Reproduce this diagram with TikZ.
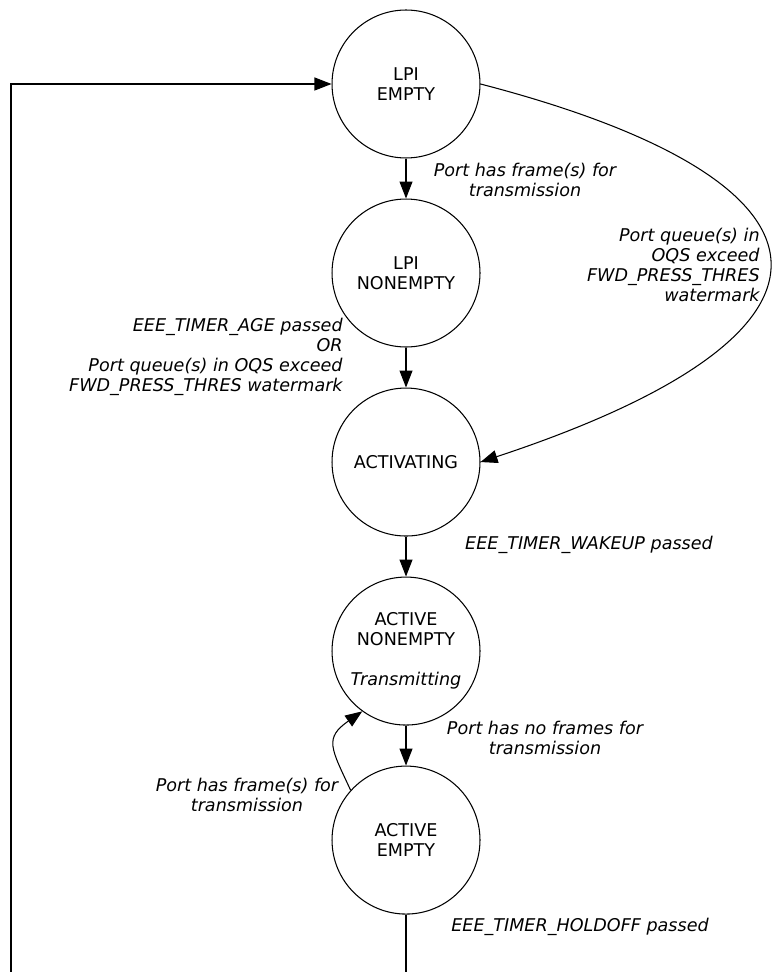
\documentclass[tikz,border=0pt]{standalone}
\usepackage{fontspec}
\setmainfont{DejaVu Sans}
\usetikzlibrary{positioning,arrows.meta}
\tikzset{
  node-state/.style={draw,circle,minimum size=2.96cm,inner sep=0pt,
    align=center,line width=0.6pt,font=\fontsize{10}{11.4}\selectfont},
  node-cond/.style={align=center,inner sep=0pt,
    font=\fontsize{10}{11.4}\selectfont\itshape},
  arrow/.style={-{Triangle[length=3.4mm,width=2.6mm]},line width=0.6pt},
}

\begin{document}
\begin{tikzpicture}[x=0.02cm,y=-0.02cm,node distance=8mm]
  \clip (0,0) rectangle (775,972);
  % states
  \node[node-state] (lpi-empty) at (406,84) {LPI\\EMPTY};
  \node[node-state,below=of lpi-empty] (lpi-nonempty) {LPI\\NONEMPTY};
  \node[node-state,below=of lpi-nonempty] (activating) {ACTIVATING};
  \node[node-state,below=of activating] (active-nonempty)
    {ACTIVE\\NONEMPTY\\[11.4pt]\textit{Transmitting}};
  \node[node-state,below=of active-nonempty] (active-empty) {ACTIVE\\EMPTY};
  % conditions
  \node[node-cond] (c-frames) at (525,180) {Port has frame(s) for\\transmission};
  \node[node-cond,anchor=east,align=right] (c-press) at (760,265)
    {Port queue(s) in\\OQS exceed\\FWD\_PRESS\_THRES\\watermark};
  \node[node-cond,anchor=east,align=right] (c-age) at (343,357)
    {EEE\_TIMER\_AGE passed\\OR\\Port queue(s) in OQS exceed\\FWD\_PRESS\_THRES watermark};
  \node[node-cond] (c-wakeup) at (589,545) {EEE\_TIMER\_WAKEUP passed};
  \node[node-cond] (c-noframes) at (545,738) {Port has no frames for\\transmission};
  \node[node-cond] (c-again) at (247,795) {Port has frame(s) for\\transmission};
  \node[node-cond] (c-holdoff) at (580,927) {EEE\_TIMER\_HOLDOFF passed};
  % transitions
  \draw[arrow] (lpi-empty) -- (lpi-nonempty);
  \draw[arrow] (lpi-nonempty) -- (activating);
  \draw[arrow] (activating) -- (active-nonempty);
  \draw[arrow] (active-nonempty) -- (active-empty);
  \draw[arrow] (lpi-empty.east) .. controls (850,180) and (880,330) .. (activating.east);
  \draw[arrow] (active-empty.138) to[out=115,in=215,looseness=1.5] (active-nonempty.234);
  \coordinate (loop-right) at (406,990);
  \coordinate (loop-left) at (11,990);
  \draw[arrow] (active-empty) -- (loop-right) -- (loop-left) |- (lpi-empty);
\end{tikzpicture}
\end{document}
